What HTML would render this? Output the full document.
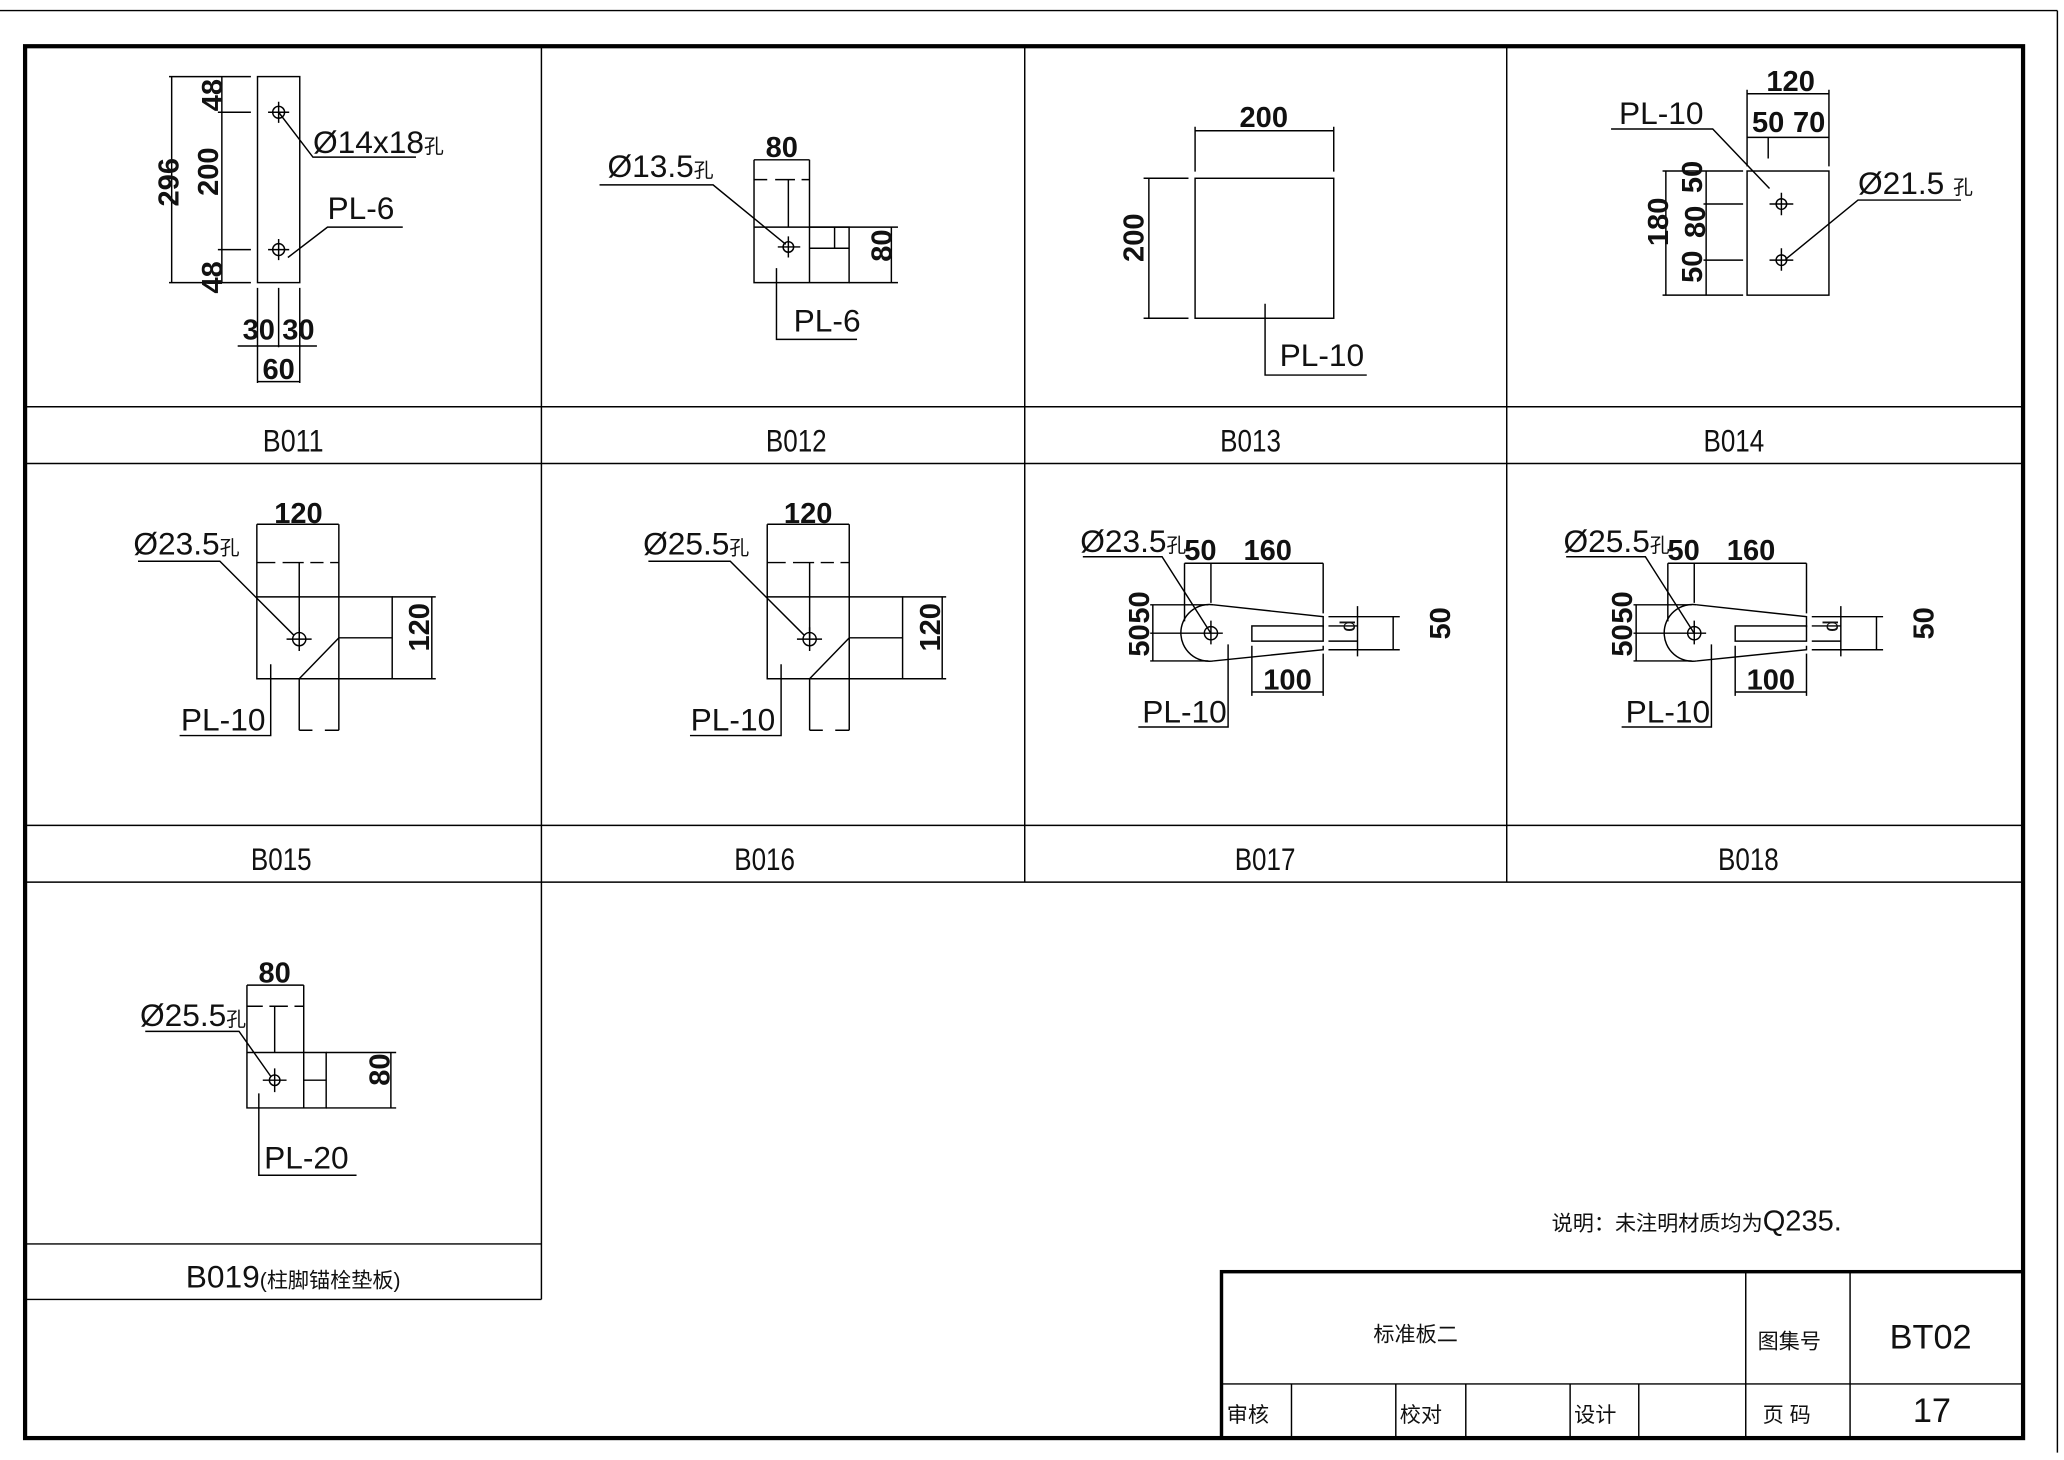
<!DOCTYPE html>
<html><head><meta charset="utf-8"><style>
html,body{margin:0;padding:0;background:#fff}
svg{display:block}
text{font-family:"Liberation Sans","Noto Sans CJK SC",sans-serif;fill:#111}
.d{font-size:22px;font-weight:bold;fill:#1a1a1a}
.l{font-size:24px;fill:#444}
.t{font-size:24px;fill:#444}
</style></head><body>
<svg width="2064" height="1460" viewBox="0 0 1563 1105.6" xmlns="http://www.w3.org/2000/svg">
<g stroke="#000" fill="none" stroke-width="1.1">
<line x1="0" y1="8" x2="1558" y2="8"/>
<line x1="1558" y1="8" x2="1558" y2="1100"/>
<rect x="19" y="35" width="1513" height="1054" stroke-width="3.2"/>
<line x1="19" y1="308" x2="1532" y2="308"/>
<line x1="19" y1="351" x2="1532" y2="351"/>
<line x1="19" y1="625" x2="1532" y2="625"/>
<line x1="19" y1="668" x2="1532" y2="668"/>
<line x1="410" y1="35" x2="410" y2="984"/>
<line x1="776" y1="35" x2="776" y2="668"/>
<line x1="1141" y1="35" x2="1141" y2="668"/>
<line x1="19" y1="942" x2="410" y2="942"/>
<line x1="19" y1="984" x2="410" y2="984"/>
<rect x="925" y="963" width="607" height="126" stroke-width="2.6"/>
<line x1="925" y1="1048" x2="1532" y2="1048"/>
<line x1="1322" y1="963" x2="1322" y2="1089"/>
<line x1="1401" y1="963" x2="1401" y2="1089"/>
<line x1="978" y1="1048" x2="978" y2="1089"/>
<line x1="1057" y1="1048" x2="1057" y2="1089"/>
<line x1="1110" y1="1048" x2="1110" y2="1089"/>
<line x1="1189" y1="1048" x2="1189" y2="1089"/>
<line x1="1241" y1="1048" x2="1241" y2="1089"/>

<rect x="195" y="58" width="32" height="156"/>
<circle cx="211" cy="85" r="4.5"/><path d="M203 85h16M211 77v16"/>
<circle cx="211" cy="189" r="4.5"/><path d="M203 189h16M211 181v16"/>
<path d="M128 58h62M128 214h62M165 85h25M165 189h25M130 58v156M168 58v156"/>
<path d="M195 218v72M211 218v45M227 218v72M180 262h60M195 289h32"/>
<path d="M211 85l26 34h78M218 195l30-23h57"/>

<path d="M571 121v93h72v-42h-72M613 121v93"/>
<path d="M613 172h30M613 188h30M632 172v16"/>
<path d="M571 136h10M587 136h15M607 136h6M597 136v36" />
<path d="M571 121h42"/>
<circle cx="597" cy="187" r="4"/><path d="M589 187h17M597 179v16"/>
<path d="M643 172h37M643 214h37M675 172v42"/>
<path d="M454 140h86l55 45"/>
<path d="M588 203v54h61"/>

<rect x="905" y="135" width="105" height="106"/>
<path d="M905 96v34M1010 96v34M905 99h105M866 135h34M866 241h34M870 135v106"/>
<path d="M958 230v54h77"/>

<rect x="1323" y="129.5" width="62" height="94"/>
<circle cx="1349" cy="154.5" r="4"/><path d="M1340 154.5h18M1349 146v17"/>
<circle cx="1349" cy="197" r="4"/><path d="M1340 197h18M1349 188v17"/>
<path d="M1323 68v58M1385 68v58M1323 71h62M1323 104h62M1339 104v16"/>
<path d="M1259 129.5h61M1259 223.5h61M1290 154.5h30M1290 197h30M1261.5 129.5v94M1292 129.5v94"/>
<path d="M1220 97.7h77l43 45"/>
<path d="M1485 151.5h-78l-55 45"/>

<g id="b15">
<path d="M194.5 397v117h102.5v-62h-102.5M256.6 397v117M194.5 397h62"/>
<path d="M194.5 426h14M214 426h16M235 426h10M250 426h6.6M226.6 426v57"/>
<path d="M256.6 483h40.5M256.6 483l-30 31M226.6 514v39M256.6 514v39M226.6 553h10M246 553h10.6"/>
<path d="M297 452h33M297 514h33M327 452v62"/>
<circle cx="226.6" cy="484" r="5"/><path d="M217 484h19M226.6 475v18"/>
<path d="M104.5 425h62l56 56"/>
<path d="M205 503v54h-69"/>
</g>
<use href="#b15" transform="translate(386.5 0)"/>

<g id="b17">
<path d="M919 458L1002 467v8M919 500.5L1002 492v-3"/>
<path d="M919 458A21.5 21.5 0 1 0 919 500.5"/>
<rect x="948" y="474" width="54" height="11.5"/>
<circle cx="917" cy="479.5" r="5"/><path d="M871 479.5h55M917 470v18"/>
<path d="M871 458h44M871 500.5h44M873 458v42.5"/>
<path d="M897 426.5h105M897 426.5v44M917 426.5v30M1002 426.5v38"/>
<path d="M948 489v38M1002 495v32M948 524h54"/>
<path d="M1006 467h54M1006 492h54M1006 474h22M1006 485.5h22M1028 459v38M1055 467v25"/>
<path d="M820 421.6h60l37 58"/>
<path d="M930 488v62.5h-68"/>
</g>
<use href="#b17" transform="translate(366 0)"/>

<path d="M187 746v93h60v-42h-60M230 746v93M187 746h43M230 818h17"/>
<path d="M187 762h12M204 762h14M223 762h7M208 762v35"/>
<circle cx="208" cy="818" r="4"/><path d="M199 818h18M208 809v18"/>
<path d="M247 797h53M247 839h53M296 797v42"/>
<path d="M110 781h71l24 34"/>
<path d="M196 828v62h74"/>
</g>

<g class="d">
<text x="160" y="80" transform="rotate(-90 160 72)" text-anchor="middle">48</text>
<text x="127" y="146" transform="rotate(-90 127 138)" text-anchor="middle">296</text>
<text x="165" y="146" transform="rotate(-90 157 138)" text-anchor="middle">200</text>
<text x="160" y="218" transform="rotate(-90 160 210)" text-anchor="middle">48</text>
<text x="196" y="257" text-anchor="middle">30</text><text x="226" y="257" text-anchor="middle">30</text>
<text x="211" y="287" text-anchor="middle">60</text>
<text x="592" y="119" text-anchor="middle">80</text>
<text x="674" y="201" transform="rotate(-90 667 193)" text-anchor="middle">80</text>
<text x="957" y="96" text-anchor="middle">200</text>
<text x="866" y="196" transform="rotate(-90 858 188)" text-anchor="middle">200</text>
<text x="1356" y="69" text-anchor="middle">120</text>
<text x="1339" y="100" text-anchor="middle">50</text><text x="1370" y="100" text-anchor="middle">70</text>
<text x="1263" y="184" transform="rotate(-90 1255 176)" text-anchor="middle">180</text>
<text x="1289" y="150" transform="rotate(-90 1281 142)" text-anchor="middle">50</text>
<text x="1291" y="184" transform="rotate(-90 1283 176)" text-anchor="middle">80</text>
<text x="1289" y="218" transform="rotate(-90 1281 210)" text-anchor="middle">50</text>
<text x="226" y="396" text-anchor="middle">120</text>
<text x="325" y="491" transform="rotate(-90 317 483)" text-anchor="middle">120</text>
<text x="612" y="396" text-anchor="middle">120</text>
<text x="712" y="491" transform="rotate(-90 704 483)" text-anchor="middle">120</text>
<g id="d17">
<text x="909" y="424" text-anchor="middle">50</text>
<text x="960" y="424" text-anchor="middle">160</text>
<text x="870" y="476" transform="rotate(-90 862 468)" text-anchor="middle">50</text>
<text x="870" y="501" transform="rotate(-90 862 493)" text-anchor="middle">50</text>
<text x="975" y="522" text-anchor="middle">100</text>
<text x="1098" y="488" transform="rotate(-90 1090 480)" text-anchor="middle">50</text>
<text x="1026" y="486" transform="rotate(-90 1020 480)" text-anchor="middle" font-size="16" font-weight="normal">d</text>
</g>
<use href="#d17" transform="translate(366 0)"/>
<text x="208" y="744" text-anchor="middle">80</text>
<text x="295" y="826" transform="rotate(-90 287 818)" text-anchor="middle">80</text>
</g>

<g class="l">
<text x="237" y="116">Ø14x18<tspan font-size="15">孔</tspan></text>
<text x="248" y="166">PL-6</text>
<text x="460" y="134">Ø13.5<tspan font-size="15">孔</tspan></text>
<text x="601" y="251">PL-6</text>
<text x="969" y="277">PL-10</text>
<text x="1226" y="94">PL-10</text>
<text x="1407" y="147">Ø21.5 <tspan font-size="15">孔</tspan></text>
<text x="101" y="420">Ø23.5<tspan font-size="15">孔</tspan></text>
<text x="137" y="553">PL-10</text>
<text x="487" y="420">Ø25.5<tspan font-size="15">孔</tspan></text>
<text x="523" y="553">PL-10</text>
<text x="818" y="418">Ø23.5<tspan font-size="15">孔</tspan></text>
<text x="865" y="547">PL-10</text>
<text x="1184" y="418">Ø25.5<tspan font-size="15">孔</tspan></text>
<text x="1231" y="547">PL-10</text>
<text x="106" y="777">Ø25.5<tspan font-size="15">孔</tspan></text>
<text x="200" y="885">PL-20</text>
</g>

<g class="t" text-anchor="middle">
<text x="222" y="342" textLength="46" lengthAdjust="spacingAndGlyphs">B011</text>
<text x="603" y="342" textLength="46" lengthAdjust="spacingAndGlyphs">B012</text>
<text x="947" y="342" textLength="46" lengthAdjust="spacingAndGlyphs">B013</text>
<text x="1313" y="342" textLength="46" lengthAdjust="spacingAndGlyphs">B014</text>
<text x="213" y="659" textLength="46" lengthAdjust="spacingAndGlyphs">B015</text>
<text x="579" y="659" textLength="46" lengthAdjust="spacingAndGlyphs">B016</text>
<text x="958" y="659" textLength="46" lengthAdjust="spacingAndGlyphs">B017</text>
<text x="1324" y="659" textLength="46" lengthAdjust="spacingAndGlyphs">B018</text>
<text x="222" y="975">B019<tspan font-size="16">(柱脚锚栓垫板)</tspan></text>
</g>
<text x="1175" y="932" font-size="16" fill="#333">说明：未注明材质均为<tspan font-size="22">Q235.</tspan></text>
<g font-size="16" text-anchor="middle" fill="#333">
<text x="1072" y="1016">标准板二</text>
<text x="1355" y="1021">图集号</text>
<text x="1462" y="1021" font-size="26">BT02</text>
<text x="945" y="1077">审核</text>
<text x="1076" y="1077">校对</text>
<text x="1208" y="1077">设计</text>
<text x="1353" y="1077">页 码</text>
<text x="1463" y="1077" font-size="26">17</text>
</g>
</svg>
</body></html>
